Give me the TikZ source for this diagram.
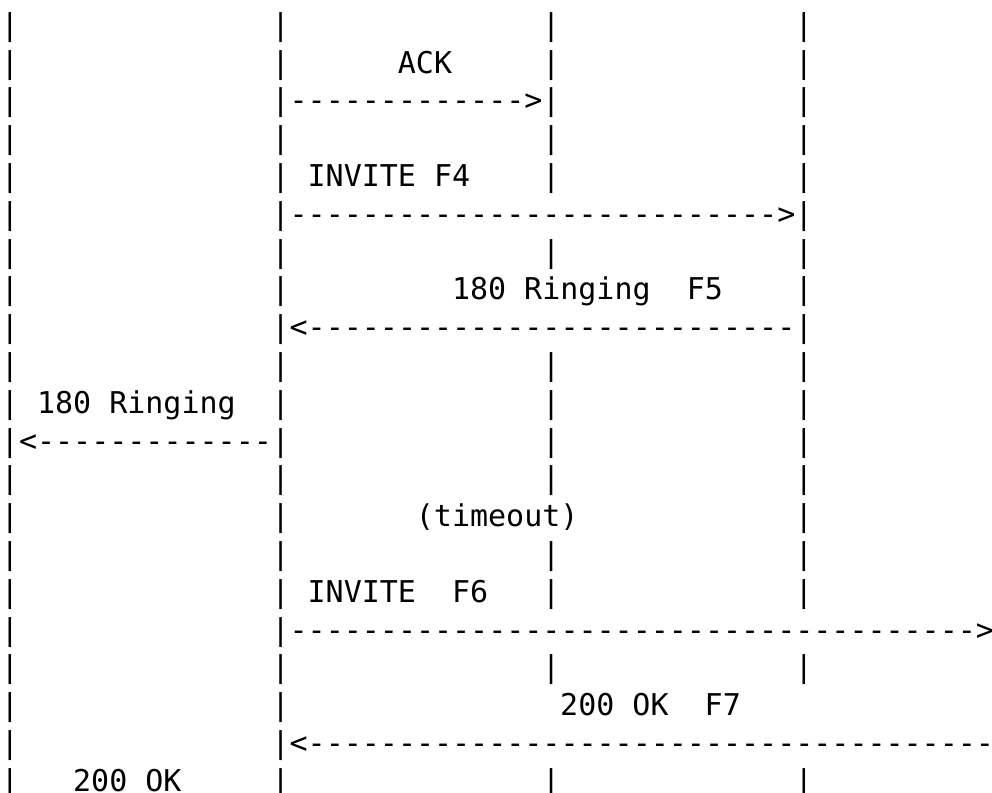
\documentclass[tikz,border=0pt]{standalone}
\usepackage{fontspec}
\setmonofont{DejaVu Sans Mono}
\begin{document}
\begin{tikzpicture}[x=1pt,y=1pt,
  seg/.style={anchor=base west,inner sep=0pt,outer sep=0pt,font=\ttfamily\fontsize{15pt}{18.9pt}\selectfont,text=black}]
\useasboundingbox (0,0) rectangle (496,-396.5);
% column c, row r  ->  x = 0.5 + 9.02 c ,  y = -(17.6 + 18.9 (r-1))
\newcommand\seg[4]{\node[seg] (#1) at ({0.5+9.02*#2},{-17.6-18.9*(#3-1)}) {#4};}
% lifeline bars
\foreach \r/\cols in {1/{0,15,30,44},2/{0,15,30,44},3/{0,15,30,44},4/{0,15,30,44},
  5/{0,15,30,44},6/{0,15,44},7/{0,15,30,44},8/{0,15,44},9/{0,15,44},10/{0,15,30,44},
  11/{0,15,30,44},12/{0,15,30,44},13/{0,15,30,44},14/{0,15,44},15/{0,15,30,44},
  16/{0,15,30,44},17/{0,15},18/{0,15,30,44},19/{0,15},20/{0,15},21/{0,15,30,44}}{
  \foreach \c in \cols {\seg{b\r c\c}{\c}{\r}{|}}
}
% messages
\seg{ack}{22}{2}{ACK}
\seg{ackarrow}{16}{3}{------------->}
\seg{inv4}{17}{5}{INVITE F4}
\seg{inv4arrow}{16}{6}{--------------------------->}
\seg{ring5}{25}{8}{180 Ringing~~F5}
\seg{ring5arrow}{16}{9}{<---------------------------}
\seg{ring}{2}{11}{180 Ringing}
\seg{ringarrow}{1}{12}{<-------------}
\seg{timeout}{23}{14}{(timeout)}
\seg{inv6}{17}{16}{INVITE~~F6}
\seg{inv6arrow}{16}{17}{-------------------------------------->}
\seg{ok7}{31}{19}{200 OK~~F7}
\seg{ok7arrow}{16}{20}{<--------------------------------------}
\seg{ok}{4}{21}{200 OK}
\end{tikzpicture}
\end{document}
